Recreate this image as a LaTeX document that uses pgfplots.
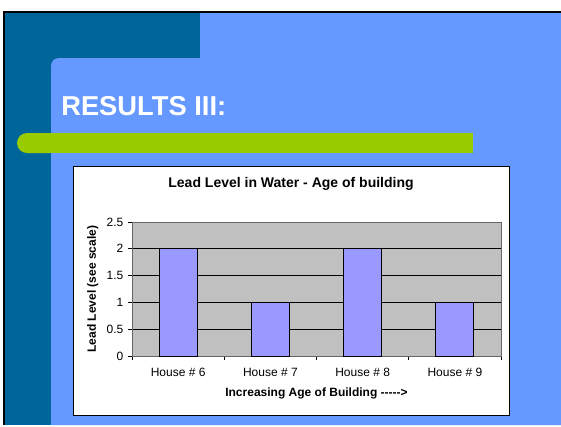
\documentclass[border=0pt]{standalone}
\usepackage{fontspec}
\setmainfont{Liberation Sans}
\usepackage{pgfplots}
\pgfplotsset{compat=1.18}
\definecolor{slideteal}{HTML}{006699}
\definecolor{slideblue}{HTML}{6699FF}
\definecolor{slidegreen}{HTML}{99CC00}
\definecolor{plotgray}{HTML}{C0C0C0}
\definecolor{barblue}{HTML}{9999FF}
\begin{document}
\begin{tikzpicture}
\begin{scope}[x=0.75pt,y=-0.75pt]
\useasboundingbox (0,0) rectangle (561,426);
\fill[white] (0,0) rectangle (561,426);
\fill[slideblue] (5,13) rectangle (561,425);
\fill[black] (3,11) rectangle (561,13);
\fill[black] (3,11) rectangle (5,425);
\fill[slideteal] (5,13) rectangle (200,70);
\fill[slideteal] (5,13) rectangle (51,425);
\fill[slideblue] (51,425) [rounded corners=6pt] -- (51,58) -- (561,58) [sharp corners] -- (561,425) -- cycle;
\fill[slidegreen, rounded corners=7.5pt] (17,133) rectangle (60,153);
\fill[slidegreen] (40,133) rectangle (473,153);
\node[anchor=base west, inner sep=0pt, text=white, font=\bfseries\fontsize{20.5}{24}\selectfont] at (61,115) {RESULTS III:};
\filldraw[fill=white, draw=black, line width=0.75pt] (73,166) rectangle (509,415);
\end{scope}
\begin{axis}[
  at={(99pt,-267pt)}, anchor=south west,
  scale only axis, width=276.75pt, height=100.5pt,
  xmin=-0.5, xmax=3.5, ymin=0, ymax=2.5,
  ytick={0,0.5,1,1.5,2,2.5},
  xtick={0,1,2,3},
  xticklabels={House \# 6, House \# 7, House \# 8, House \# 9},
  major x tick style={draw=none},
  minor xtick={-0.5,0.5,1.5,2.5,3.5},
  xtick pos=left, ytick pos=left,
  tick align=outside, major tick length=3pt, minor tick length=3pt,
  tick style={black, line width=0.6pt},
  ymajorgrids, grid style={black, line width=0.6pt},
  axis background/.style={fill=plotgray},
  axis line style={black!60, line width=0.6pt},
  ticklabel style={font=\fontsize{9}{10}\selectfont},
  xticklabel style={yshift=-2.5pt},
  /pgf/number format/assume math mode=true,
  every axis title shift=0pt,
  title={Lead Level in Water - Age of building},
  title style={font=\bfseries\fontsize{10.5}{12}\selectfont, at={(axis description cs:0.431,1.284)}, anchor=center},
  xlabel={Increasing Age of Building -{}-{}-{}-{}->},
  xlabel style={font=\bfseries\fontsize{9}{10}\selectfont, at={(axis description cs:0.5,-0.276)}, anchor=center},
  ylabel={Lead Level (see scale)},
  ylabel style={font=\bfseries\fontsize{9}{10}\selectfont, at={(axis description cs:-0.1065,0.5)}, anchor=center},
]
\addplot[ybar, bar width=28.5pt, fill=barblue, draw=black, line width=0.6pt] coordinates {(0,2) (1,1) (2,2) (3,1)};
\end{axis}
\end{tikzpicture}
\end{document}
